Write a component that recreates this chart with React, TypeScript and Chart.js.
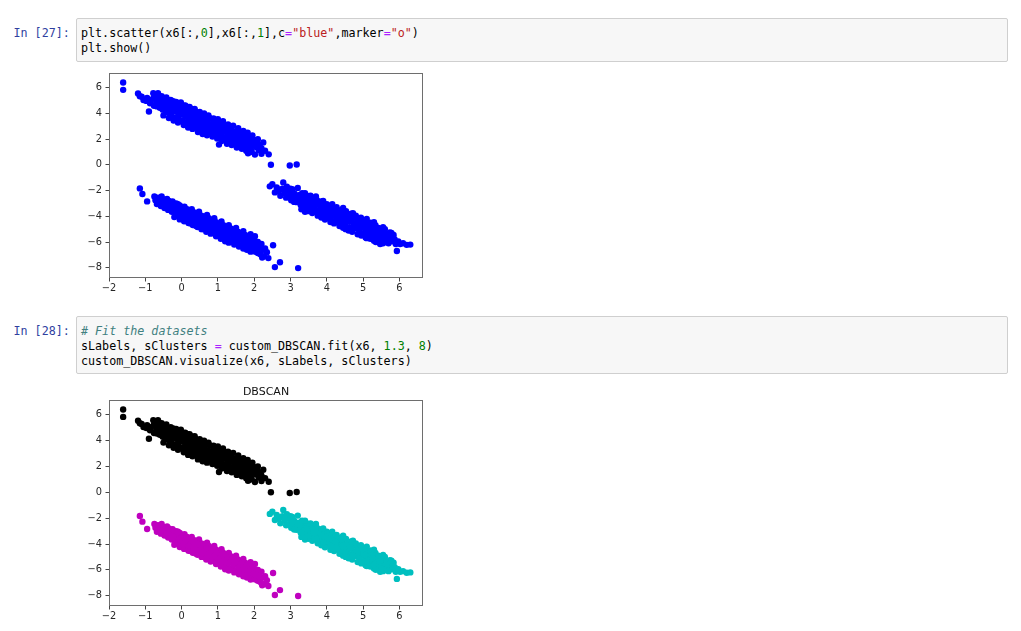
import React, { useEffect, useRef } from "react";
import { Chart, registerables } from "chart.js";

Chart.register(...registerables);

type Pt = [number, number];

// Cluster 0 (upper band, black in DBSCAN)
const clusterUpper: Pt[] = [
  [-1.61, 6.41], [-1.61, 5.84], [-1.2, 5.55], [-1.15, 5.35], [-1.1, 5.3], [-1.05, 5.05], [-0.97, 4.98], [-0.95, 5.2], [-0.9, 4.15], [-0.87, 4.8], [-0.85, 5.05],
  [-0.78, 5.58], [-0.77, 5.2], [-0.76, 4.6], [-0.72, 5.45], [-0.7, 4.9], [-0.68, 4.55], [-0.65, 5.58], [-0.64, 5.3], [-0.62, 5.0], [-0.6, 4.45],
  [-0.56, 5.15], [-0.54, 4.8], [-0.52, 4.3], [-0.48, 5.05], [-0.46, 4.6], [-0.44, 4.15], [-0.4, 4.9], [-0.38, 4.5], [-0.36, 4.05],
  [-0.32, 4.85], [-0.3, 4.35], [-0.28, 3.9], [-0.26, 4.6], [-0.23, 4.95], [-0.2, 4.2], [-0.18, 3.7], [-0.16, 4.5], [-0.13, 4.8], [-0.1, 4.05], [-0.08, 3.6],
  [-0.05, 4.35], [-0.03, 4.7], [0.0, 3.95], [0.02, 3.45], [0.05, 4.25], [0.07, 4.6], [0.1, 3.75], [0.12, 3.3], [0.15, 4.1], [0.17, 4.5],
  [0.2, 3.6], [0.22, 3.2], [0.25, 3.95], [0.27, 4.35], [0.3, 3.45], [0.32, 3.0], [0.35, 3.8], [0.37, 4.2], [0.4, 3.3], [0.42, 2.9],
  [0.45, 3.65], [0.47, 4.05], [0.5, 3.15], [0.52, 2.8], [0.55, 3.5], [0.57, 3.9], [0.6, 3.0], [0.62, 2.7], [0.65, 3.35], [0.67, 3.75],
  [0.7, 2.85], [0.72, 2.55], [0.75, 3.2], [0.77, 3.65], [0.8, 2.75], [0.82, 2.45], [0.85, 3.1], [0.87, 3.5], [0.9, 2.6], [0.92, 2.3],
  [0.95, 2.95], [0.97, 3.35], [1.0, 2.45], [1.03, 1.58], [1.05, 2.8], [1.07, 3.2], [1.1, 2.3], [1.12, 2.05], [1.15, 2.65], [1.17, 3.05],
  [1.2, 2.15], [1.23, 1.95], [1.25, 2.5], [1.27, 2.9], [1.3, 2.05], [1.33, 1.8], [1.35, 2.4], [1.37, 2.75], [1.4, 1.95], [1.43, 1.7],
  [1.45, 2.25], [1.48, 2.6], [1.5, 1.85], [1.53, 1.6], [1.55, 2.15], [1.58, 2.5], [1.6, 1.75], [1.63, 1.45], [1.65, 2.0], [1.68, 2.35],
  [1.7, 1.6], [1.73, 1.3], [1.75, 1.9], [1.78, 2.2], [1.8, 1.45], [1.83, 0.9], [1.85, 1.75], [1.88, 2.1], [1.9, 1.3], [1.93, 1.05],
  [1.96, 1.65], [2.0, 1.95], [2.02, 0.8], [2.05, 1.4], [2.08, 1.7], [2.12, 1.15], [2.15, 1.55], [2.2, 0.87], [2.2, 1.3], [2.25, 1.75],
  [2.3, 1.1], [2.4, 0.82], [2.46, 0.01], [2.98, -0.05], [3.17, 0.03],
  [-0.65, 4.75], [-0.45, 4.45], [-0.25, 4.25], [-0.05, 4.0], [0.12, 3.85], [0.32, 3.6], [0.52, 3.35], [0.72, 3.1], [0.92, 2.85],
  [1.12, 2.6], [1.32, 2.4], [1.52, 2.15], [1.72, 1.9], [1.92, 1.65],
  [-0.55, 5.35], [-0.42, 5.25], [-0.3, 5.05], [-0.15, 4.9], [-0.02, 4.85], [0.1, 4.62], [0.22, 4.5], [0.36, 4.35], [0.5, 4.12],
  [0.62, 4.0], [0.74, 3.85], [0.88, 3.62], [1.0, 3.55], [1.14, 3.4], [1.28, 3.15], [1.42, 3.05], [1.56, 2.85], [1.7, 2.65],
  [1.82, 2.5], [1.95, 2.3], [2.1, 2.0],
  [-0.5, 3.85], [-0.35, 3.65], [-0.22, 3.45], [-0.1, 3.3], [0.06, 3.1], [0.18, 2.9], [0.3, 2.8], [0.45, 2.55], [0.58, 2.4],
  [0.7, 2.3], [0.85, 2.2], [0.98, 2.05], [1.1, 1.85], [1.25, 1.65], [1.38, 1.55], [1.52, 1.35], [1.66, 1.25], [1.78, 1.1], [1.9, 1.0],
  [-0.3, 3.75], [-0.15, 3.57], [0.0, 3.4], [0.15, 3.22], [0.3, 3.05], [0.45, 2.87], [0.6, 2.69], [0.75, 2.52], [0.9, 2.34],
  [1.05, 2.16], [1.2, 1.98], [1.35, 1.81], [1.5, 1.63], [1.65, 1.45], [1.8, 1.28],
];

// Cluster 1 (lower-left band, magenta in DBSCAN)
const clusterLowerLeft: Pt[] = [
  [-1.15, -1.83], [-1.08, -2.27], [-0.95, -2.84],
  [-0.75, -2.45], [-0.72, -2.75], [-0.68, -3.05], [-0.65, -2.55], [-0.6, -2.85], [-0.57, -3.2], [-0.55, -2.6], [-0.5, -2.95], [-0.47, -3.35],
  [-0.45, -2.7], [-0.4, -3.05], [-0.37, -3.5], [-0.35, -2.8], [-0.3, -3.2], [-0.27, -3.65], [-0.25, -2.9], [-0.2, -3.35], [-0.17, -3.8],
  [-0.15, -3.0], [-0.1, -3.5], [-0.07, -3.95], [-0.05, -3.15], [0.0, -3.6], [0.03, -4.1], [0.05, -3.3], [0.1, -3.75], [0.13, -4.2],
  [0.15, -3.45], [0.2, -3.9], [0.23, -4.35], [0.25, -3.55], [0.3, -4.05], [0.33, -4.5], [0.35, -3.7], [0.4, -4.15], [0.43, -4.65],
  [0.45, -3.8], [0.5, -4.3], [0.53, -4.75], [0.55, -3.95], [0.6, -4.45], [0.63, -4.95], [0.65, -4.05], [0.7, -4.55], [0.73, -5.05],
  [0.75, -4.15], [0.8, -4.65], [0.83, -5.2], [0.85, -4.3], [0.9, -4.8], [0.93, -5.3], [0.95, -4.45], [1.0, -4.95], [1.03, -5.45],
  [1.05, -4.55], [1.1, -5.05], [1.13, -5.55], [1.15, -4.7], [1.2, -5.2], [1.23, -5.75], [1.25, -4.8], [1.3, -5.3], [1.33, -5.9],
  [1.35, -4.95], [1.4, -5.45], [1.43, -6.0], [1.45, -5.05], [1.5, -5.55], [1.53, -6.1], [1.55, -5.2], [1.6, -5.7], [1.63, -6.25],
  [1.65, -5.3], [1.7, -5.8], [1.73, -6.35], [1.75, -5.45], [1.8, -5.95], [1.83, -6.45], [1.87, -5.6], [1.9, -6.1], [1.93, -6.6],
  [1.97, -5.75], [2.02, -5.55], [2.0, -6.25], [2.05, -6.75], [2.1, -6.0], [2.13, -6.4], [2.17, -6.95], [2.2, -6.15], [2.25, -6.6],
  [2.27, -7.1], [2.3, -6.5], [2.35, -6.8], [2.39, -7.25], [2.52, -6.25], [2.57, -7.95], [2.71, -7.57], [3.21, -8.03],
  [-0.62, -2.95], [-0.42, -3.2], [-0.22, -3.45], [-0.02, -3.7], [0.18, -3.95], [0.38, -4.2], [0.58, -4.4], [0.78, -4.65],
  [0.98, -4.9], [1.18, -5.15], [1.38, -5.4], [1.58, -5.65], [1.78, -5.85], [1.98, -6.1],
  [0.1, -4.35], [0.25, -4.55], [0.4, -4.75], [0.55, -5.0], [0.68, -5.2], [0.8, -5.35], [0.95, -5.55], [1.08, -5.75], [1.2, -5.95],
  [1.3, -6.05], [1.45, -6.2], [1.58, -6.35], [1.7, -6.5], [1.8, -6.6], [1.9, -6.75], [2.1, -6.85], [2.22, -7.2],
  [-0.55, -2.45], [-0.4, -2.65], [-0.25, -2.85], [-0.1, -3.05], [0.08, -3.25], [0.28, -3.45], [0.48, -3.65], [0.7, -3.9],
  [0.9, -4.15], [1.1, -4.4], [1.3, -4.7], [1.5, -4.9], [1.7, -5.15], [1.9, -5.4],
  [-0.2, -4.06], [-0.05, -4.24], [0.07, -4.38], [0.19, -4.53], [0.31, -4.68], [0.44, -4.83], [0.57, -4.99], [0.69, -5.13],
  [0.82, -5.29], [0.96, -5.46], [1.08, -5.61], [1.21, -5.76], [1.35, -5.93], [1.48, -6.09], [1.62, -6.26], [1.76, -6.43],
  [1.88, -6.57], [2.0, -6.72],
  [0.0, -3.5], [0.14, -3.67], [0.27, -3.83], [0.41, -4.0], [0.55, -4.17], [0.68, -4.32], [0.82, -4.49], [0.96, -4.66],
  [1.1, -4.83], [1.24, -5.0], [1.38, -5.17], [1.52, -5.34], [1.66, -5.51], [1.8, -5.68], [1.94, -5.85], [2.08, -6.0],
  [0.06, -3.99], [0.2, -4.16], [0.34, -4.33], [0.47, -4.49], [0.61, -4.66], [0.75, -4.83], [0.88, -4.98], [1.02, -5.15],
  [1.16, -5.32], [1.29, -5.48], [1.43, -5.65], [1.57, -5.82], [1.71, -5.99], [1.85, -6.16], [1.99, -6.33], [2.12, -6.49],
];

// Cluster 2 (right band, cyan in DBSCAN)
const clusterRight: Pt[] = [
  [2.43, -1.67], [2.5, -1.5], [2.57, -2.14], [2.62, -1.75], [2.68, -2.05], [2.72, -2.4], [2.8, -1.36], [2.78, -1.85], [2.84, -2.2], [2.88, -2.55], [2.9, -1.7],
  [2.95, -2.0], [2.98, -2.4], [3.02, -2.75], [3.05, -1.9], [3.1, -2.2], [3.13, -2.6], [3.17, -2.9], [3.2, -1.8], [3.22, -2.35], [3.25, -2.75], [3.28, -3.1],
  [3.32, -2.2], [3.35, -2.55], [3.38, -2.95], [3.42, -3.3], [3.45, -2.4], [3.5, -2.7], [3.53, -3.1], [3.56, -3.5], [3.6, -2.55], [3.63, -2.9], [3.66, -3.3],
  [3.7, -2.45], [3.73, -2.75], [3.76, -3.1], [3.8, -3.5], [3.83, -3.85], [3.85, -2.85], [3.9, -3.25], [3.93, -3.65], [3.96, -4.0],
  [4.0, -3.05], [4.03, -3.4], [4.06, -3.75], [4.1, -4.15], [4.13, -3.15], [4.17, -3.55], [4.2, -3.95], [4.24, -4.35], [4.27, -3.3], [4.3, -3.7], [4.34, -4.1], [4.37, -4.5],
  [4.4, -3.5], [4.43, -3.85], [4.47, -4.25], [4.5, -4.7], [4.53, -3.6], [4.57, -4.0], [4.6, -4.4], [4.63, -4.85], [4.67, -3.8], [4.7, -4.15], [4.74, -4.55], [4.77, -4.95],
  [4.8, -3.95], [4.84, -4.3], [4.87, -4.7], [4.9, -5.1], [4.94, -4.1], [4.97, -4.5], [5.0, -4.85], [5.04, -5.3], [5.07, -4.3], [5.1, -4.65], [5.14, -5.0], [5.17, -5.45],
  [5.2, -4.5], [5.24, -4.85], [5.27, -5.2], [5.3, -5.6], [5.34, -4.7], [5.37, -5.05], [5.4, -5.4], [5.44, -5.8], [5.47, -6.15], [5.42, -4.9], [5.5, -5.2], [5.53, -5.55],
  [5.57, -5.9], [5.6, -5.0], [5.64, -5.4], [5.67, -5.75], [5.7, -6.1], [5.74, -5.25], [5.77, -5.6], [5.8, -5.95], [5.84, -5.45], [5.87, -5.8], [5.9, -6.15], [5.93, -6.7],
  [5.97, -5.95], [6.02, -6.15], [6.1, -6.1], [6.2, -6.22], [6.3, -6.2],
  [2.65, -1.9], [2.85, -2.05], [3.05, -2.35], [3.25, -2.55], [3.45, -2.85], [3.65, -3.1], [3.85, -3.35], [4.05, -3.6], [4.25, -3.85],
  [4.45, -4.1], [4.65, -4.35], [4.85, -4.6], [5.05, -4.85], [5.25, -5.1], [5.45, -5.35], [5.65, -5.6],
  [3.4, -3.65], [3.6, -3.75], [3.75, -3.95], [3.95, -4.25], [4.2, -4.55], [4.35, -4.75], [4.52, -5.0], [4.7, -5.2], [4.85, -5.4],
  [5.07, -5.65], [5.2, -5.75], [5.3, -5.9],
  [3.3, -3.45], [3.5, -3.6], [3.85, -4.1], [4.1, -4.45], [4.45, -4.9], [4.6, -5.1], [4.95, -5.5], [5.1, -5.7], [5.35, -6.0], [5.55, -6.1],
  [3.0, -1.85], [3.4, -2.2], [3.55, -2.4], [3.9, -2.8], [4.15, -3.05], [4.45, -3.35], [4.72, -3.75], [5.1, -4.2], [5.3, -4.45],
  [5.55, -4.85], [5.78, -5.3],
  [3.1, -2.88], [3.3, -3.13], [3.5, -3.38], [3.7, -3.63], [3.9, -3.88], [4.1, -4.13], [4.3, -4.38], [4.5, -4.63], [4.7, -4.88],
  [4.9, -5.13], [5.1, -5.38], [5.3, -5.63], [5.5, -5.88],
];

const allPoints: Pt[] = [...clusterUpper, ...clusterLowerLeft, ...clusterRight];

// Axis ranges and ticks
const xRange: [number, number] = [-2, 6.65];
const yRange: [number, number] = [-8.8, 7.15];
const xStep = 1;
const yStep = 2;

const chartTitle = "DBSCAN";

const MONO = "'DejaVu Sans Mono', monospace";
const SANS = "'DejaVu Sans', sans-serif";

const fmtTick = (v: number | string) => {
  const n = Number(v);
  return n < 0 ? "\u2212" + Math.abs(n) : String(n);
};

type DS = { points: Pt[]; color: string };

function ScatterPlot(props: {
  left: number;
  top: number;
  width: number;
  height: number;
  padTop: number;
  padRight: number;
  yAxisW: number;
  xAxisH: number;
  series: DS[];
  title?: string;
}) {
  const ref = useRef<HTMLCanvasElement | null>(null);
  useEffect(() => {
    if (!ref.current) return;
    const framePlugin = {
      id: "frame",
      afterDraw(chart: any) {
        const { ctx, chartArea } = chart;
        const l = Math.round(chartArea.left) + 0.5;
        const t = Math.round(chartArea.top) + 0.5;
        const r = Math.round(chartArea.right) - 0.5;
        const b = Math.round(chartArea.bottom) - 0.5;
        ctx.save();
        ctx.strokeStyle = "#6e6e6e";
        ctx.lineWidth = 1;
        ctx.strokeRect(l, t, r - l, b - t);
        if (props.title) {
          ctx.fillStyle = "#111";
          ctx.font = "11px " + SANS;
          ctx.textAlign = "center";
          ctx.textBaseline = "middle";
          ctx.fillText(props.title, (chartArea.left + chartArea.right) / 2, chartArea.top - 8);
        }
        ctx.restore();
      },
    };
    const tickFont = { family: SANS, size: 9.8 };
    const grid = {
      display: true,
      drawOnChartArea: false,
      drawTicks: true,
      tickLength: 3.5,
      color: "#444",
      lineWidth: 1,
    };
    const chart = new Chart(ref.current, {
      type: "scatter",
      data: {
        datasets: props.series.map((s) => ({
          data: s.points.map(([x, y]) => ({ x, y })),
          backgroundColor: s.color,
          borderColor: s.color,
          borderWidth: 0,
          pointRadius: 3.2,
          pointHoverRadius: 3.2,
        })),
      },
      options: {
        animation: false,
        responsive: false,
        events: [],
        layout: { padding: { left: 0, top: props.padTop, right: props.padRight, bottom: 0 } },
        plugins: {
          legend: { display: false },
          tooltip: { enabled: false },
          title: { display: false },
        },
        scales: {
          x: {
            type: "linear",
            min: xRange[0],
            max: xRange[1],
            afterFit: (s: any) => {
              s.height = props.xAxisH;
            },
            ticks: {
              stepSize: xStep,
              includeBounds: false,
              padding: 1.5,
              color: "#262626",
              font: tickFont,
              maxRotation: 0,
              autoSkip: false,
              callback: fmtTick,
            },
            grid,
            border: { display: false },
          },
          y: {
            type: "linear",
            min: yRange[0],
            max: yRange[1],
            afterFit: (s: any) => {
              s.width = props.yAxisW;
            },
            ticks: {
              stepSize: yStep,
              includeBounds: false,
              padding: 3.5,
              color: "#262626",
              font: tickFont,
              autoSkip: false,
              callback: fmtTick,
            },
            grid,
            border: { display: false },
          },
        },
      } as any,
      plugins: [framePlugin],
    });
    return () => chart.destroy();
  }, []);
  return (
    <canvas
      ref={ref}
      width={props.width}
      height={props.height}
      style={{ position: "absolute", left: props.left, top: props.top, width: props.width, height: props.height }}
    />
  );
}

const num = { color: "#008000" };
const str = { color: "#BA2121" };
const op = { color: "#AA22FF" };
const comment = { color: "#408080", fontStyle: "italic" as const };

function Prompt({ top, label }: { top: number; label: string }) {
  return (
    <div
      style={{
        position: "absolute",
        left: 13.5,
        top: top + 1,
        fontFamily: MONO,
        fontSize: 11.7,
        lineHeight: "15.2px",
        paddingTop: 6.5,
        color: "#303F9F",
        whiteSpace: "pre",
      }}
    >
      {label}
    </div>
  );
}

function CodeCell({ top, height, children }: { top: number; height: number; children: React.ReactNode }) {
  return (
    <div
      style={{
        position: "absolute",
        left: 76,
        top,
        width: 932,
        height,
        boxSizing: "border-box",
        border: "1px solid #cfcfcf",
        borderRadius: 2,
        background: "#f7f7f7",
        fontFamily: MONO,
        fontSize: 11.7,
        lineHeight: "15.2px",
        padding: "6.5px 4px",
        color: "#000",
        whiteSpace: "pre",
      }}
    >
      {children}
    </div>
  );
}

export default function App() {
  return (
    <div style={{ position: "absolute", left: 0, top: 0, width: 1021, height: 631, background: "#fff", overflow: "hidden" }}>
      <Prompt top={18} label="In [27]:" />
      <CodeCell top={18} height={44}>
        <div>
          plt.scatter(x6[:,<span style={num}>0</span>],x6[:,<span style={num}>1</span>],c<span style={op}>=</span>
          <span style={str}>"blue"</span>,marker<span style={op}>=</span>
          <span style={str}>"o"</span>)
        </div>
        <div>plt.show()</div>
      </CodeCell>
      <ScatterPlot
        left={80}
        top={62}
        width={360}
        height={240}
        padTop={11}
        padRight={17}
        yAxisW={29}
        xAxisH={24}
        series={[{ points: allPoints, color: "#0000ff" }]}
      />
      <Prompt top={316} label="In [28]:" />
      <CodeCell top={316} height={58}>
        <div>
          <span style={comment}># Fit the datasets</span>
        </div>
        <div>
          sLabels, sClusters <span style={op}>=</span> custom_DBSCAN.fit(x6, <span style={num}>1.3</span>,{" "}
          <span style={num}>8</span>)
        </div>
        <div>custom_DBSCAN.visualize(x6, sLabels, sClusters)</div>
      </CodeCell>
      <ScatterPlot
        left={80}
        top={380}
        width={360}
        height={251}
        padTop={20}
        padRight={17}
        yAxisW={29}
        xAxisH={25}
        title={chartTitle}
        series={[
          { points: clusterUpper, color: "#000000" },
          { points: clusterRight, color: "#00bfbf" },
          { points: clusterLowerLeft, color: "#bf00bf" },
        ]}
      />
    </div>
  );
}
